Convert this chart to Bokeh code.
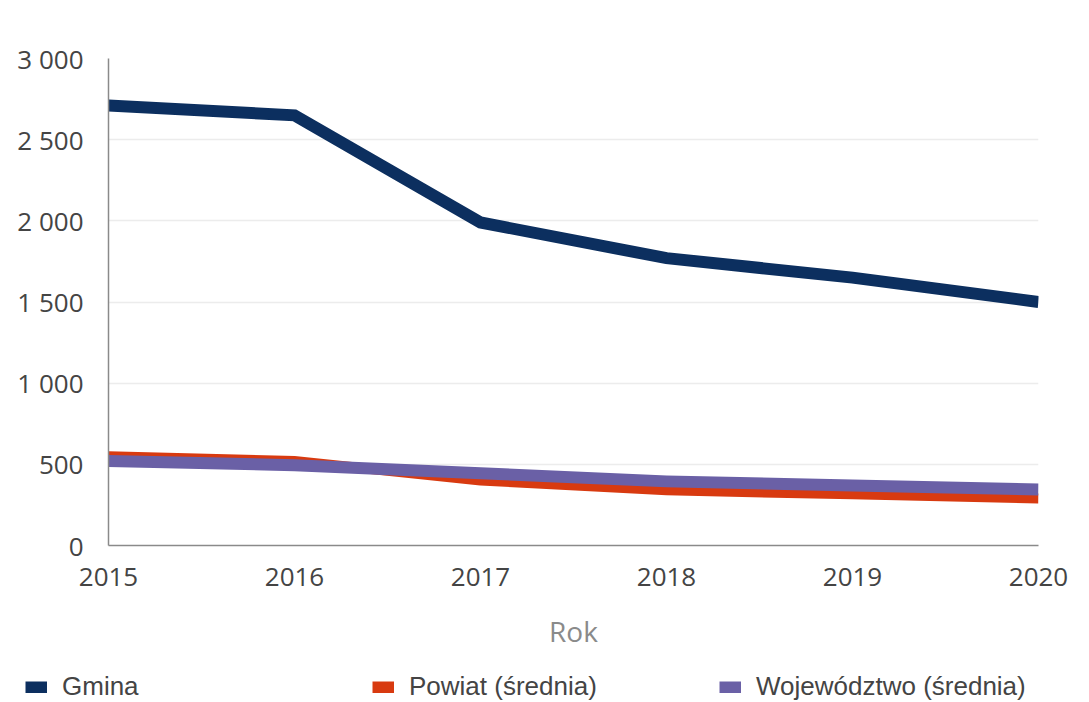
from bokeh.plotting import figure
from bokeh.models import FixedTicker, Legend, LegendItem, Range1d
from bokeh.layouts import column
from bokeh.embed import file_html
from bokeh.resources import INLINE

years = [2015, 2016, 2017, 2018, 2019, 2020]
gmina = [2710, 2650, 1990, 1770, 1650, 1500]
powiat = [550, 520, 400, 340, 315, 290]
wojewodztwo = [520, 495, 445, 395, 370, 345]
series_names = ["Gmina", "Powiat (średnia)", "Województwo (średnia)"]
y_ticks = [0, 500, 1000, 1500, 2000, 2500, 3000]
y_tick_labels = ["0", "500", "1 000", "1 500", "2 000", "2 500", "3 000"]
x_label = "Rok"

colors = ["#0c2f5f", "#d83a10", "#6a60a6"]
widths = [12, 10, 12]
series = [gmina, powiat, wojewodztwo]

W = 1085
p = figure(width=W, height=656, output_backend="svg", toolbar_location=None,
           x_range=Range1d(2015, 2020), y_range=Range1d(0, 3000),
           min_border_left=108, min_border_right=47, min_border_top=58, min_border_bottom=111)
p.outline_line_color = None
p.background_fill_color = "white"
p.frame_align = False

for ys, c, w in zip(series, colors, widths):
    p.line(years, ys, line_width=w, color=c, line_join="miter")

p.xaxis.ticker = FixedTicker(ticks=years)
p.yaxis.ticker = FixedTicker(ticks=y_ticks)
p.yaxis.major_label_overrides = {t: l for t, l in zip(y_ticks, y_tick_labels)}
p.xaxis.axis_label = x_label

for ax in (p.xaxis[0], p.yaxis[0]):
    ax.major_tick_line_color = None
    ax.minor_tick_line_color = None
    ax.axis_line_color = "#8a8a8a"
    ax.axis_line_width = 1.5
    ax.major_label_text_font = "Open Sans"
    ax.major_label_text_font_size = "26px"
    ax.major_label_text_color = "#444444"
    ax.major_tick_out = 0
    ax.major_tick_in = 0

p.xaxis.major_label_standoff = 22
p.yaxis.major_label_standoff = 25
p.xaxis.axis_label_text_font = "Open Sans"
p.xaxis.axis_label_text_font_style = "normal"
p.xaxis.axis_label_text_font_size = "28px"
p.xaxis.axis_label_text_color = "#8a8a8a"
p.xaxis.axis_label_standoff = 23

p.xgrid.grid_line_color = None
p.ygrid.grid_line_color = "#ececec"
p.ygrid.grid_line_width = 1.5

# legend strip (separate figure, dummy renderers kept out of view)
lg = figure(width=W, height=46, output_backend="svg", toolbar_location=None,
            x_range=Range1d(10000, 10001), y_range=Range1d(0, 1),
            min_border=0, min_border_left=0, min_border_right=0,
            min_border_top=0, min_border_bottom=0,
            x_axis_type=None, y_axis_type=None)
lg.frame_align = False
lg.outline_line_color = None
lg.xgrid.grid_line_color = None
lg.ygrid.grid_line_color = None
rs = [lg.line(years, ys, line_width=12, color=c) for ys, c in zip(series, colors)]
legend = Legend(items=[LegendItem(label=n, renderers=[r]) for n, r in zip(series_names, rs)],
                orientation="horizontal", location=(25, 0),
                glyph_width=22, glyph_height=12, label_width=310,
                label_text_font="Liberation Sans", label_text_font_size="26px",
                label_text_color="#444444", padding=0, spacing=0, margin=0,
                border_line_color=None, background_fill_alpha=0, label_standoff=15)
lg.add_layout(legend, "center")

layout = column(p, lg, spacing=0)
open("out.html", "w").write(file_html(layout, INLINE))
